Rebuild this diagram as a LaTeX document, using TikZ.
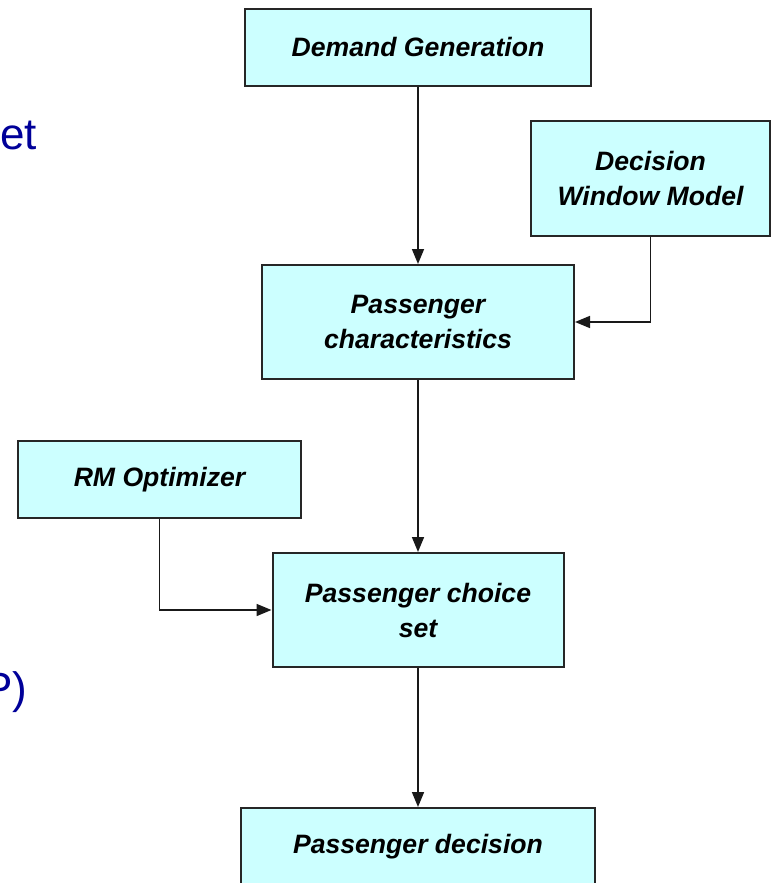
\documentclass[tikz,border=0pt]{standalone}
\usepackage{fontspec}
\setmainfont{Liberation Sans}
\usepackage{xcolor}
\usetikzlibrary{arrows.meta,positioning}
\definecolor{BoxCyan}{RGB}{204,255,255}
\definecolor{SlideBlue}{RGB}{0,0,153}

\begin{document}
\begin{tikzpicture}[
    x=0.5pt, y=-0.5pt,
    font=\fontsize{13.3}{17.5}\selectfont\bfseries\itshape,
    mb/.style={draw=black!85, line width=1pt, fill=BoxCyan, align=center,
               inner sep=0pt, minimum height=57pt},
    lowbox/.style={mb, minimum height=38.5pt},
    link/.style={->, line width=0.8pt, black!90},
    slidetxt/.style={font=\fontsize{22}{26}\selectfont, text=SlideBlue, inner sep=0pt},
    >={Triangle[length=7.5pt,width=6pt]}
  ]
  \useasboundingbox (0,0) rectangle (773,883);

  % Reste des Folientextes links (abgeschnitten)
  \node[slidetxt, anchor=base west] (t1) at (0,149) {et};
  \node[slidetxt, anchor=base east] (t2) at (28,703) {P)};

  % Hauptspalte
  \node[lowbox, minimum width=173pt] (dg) at (418,47.5) {Demand Generation};
  \node[mb, minimum width=156pt] (pc) at (418,322) {Passenger\\characteristics};
  \node[mb, minimum width=145.5pt] (cs) at (418,610) {Passenger choice\\set};
  \node[lowbox, minimum width=177pt] (pd) at (418,846.5) {Passenger decision};

  % Seitliche Eingaben
  \node[mb, minimum width=119.5pt] (dw) at (650.5,178.5) {Decision\\Window Model};
  \node[lowbox, minimum width=141.5pt] (rm) at (159.5,479.5) {RM Optimizer};

  % Verbindungen
  \draw[link] (dg) -- (pc);
  \draw[link] (pc) -- (cs);
  \draw[link] (cs) -- (pd);
  \draw[link] (dw.south) |- (pc.east);
  \draw[link] (rm.south) |- (cs.west);

\end{tikzpicture}
\end{document}
